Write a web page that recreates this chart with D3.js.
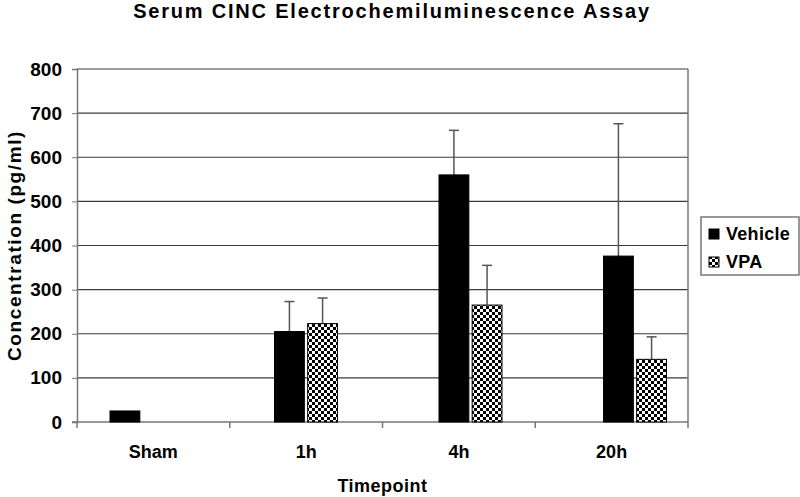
<!DOCTYPE html>
<html>
<head>
<meta charset="utf-8">
<script src="https://cdn.jsdelivr.net/npm/d3@7"></script>
<style>
  body { margin: 0; background: #fff; }
  svg text { font-family: "Liberation Sans", Arial, sans-serif; font-weight: bold; fill: #000; }
</style>
</head>
<body>
<div id="chart"></div>
<script>
const categories = ["Sham", "1h", "4h", "20h"];
const seriesNames = ["Vehicle", "VPA"];
const vehicleMeans = [25, 205, 560, 376];
const vehicleErr = [0, 68, 101, 300];
const vpaMeans = [null, 223, 265, 142];
const vpaErr = [null, 58, 90, 51];
const yTicks = [0, 100, 200, 300, 400, 500, 600, 700, 800];

function crearGrafico() {
    const width = 800, height = 497;
    const left = 77, right = 688, top = 69, bottom = 422;

    const svg = d3.select("#chart")
        .append("svg")
        .attr("width", width)
        .attr("height", height);

    const defs = svg.append("defs");
    const pat = defs.append("pattern")
        .attr("id", "checker")
        .attr("width", 6).attr("height", 6)
        .attr("patternUnits", "userSpaceOnUse");
    pat.append("rect").attr("width", 6).attr("height", 6).attr("fill", "#fff");
    pat.append("rect").attr("width", 3).attr("height", 3).attr("fill", "#000");
    pat.append("rect").attr("x", 3).attr("y", 3).attr("width", 3).attr("height", 3).attr("fill", "#000");

    const y = d3.scaleLinear().domain([0, 800]).range([bottom, top]);
    // category slots for the axis
    const xAxis = d3.scaleBand().domain(categories).range([left, right]);
    // bar groups (in the source they drift a bit from the axis slots)
    const xGroup = d3.scalePoint().domain(categories).range([141.5, 635]);
    const xSeries = d3.scaleBand().domain(seriesNames).range([-31.5, 31.5]).paddingInner(0.1);

    // grid
    svg.append("g").selectAll("line")
        .data(yTicks.filter(d => d > 0))
        .enter().append("line")
        .attr("x1", left).attr("x2", right)
        .attr("y1", d => y(d)).attr("y2", d => y(d))
        .attr("stroke", "#3a3a3a").attr("stroke-width", 1.2);

    // right border
    svg.append("line")
        .attr("x1", right).attr("x2", right)
        .attr("y1", top).attr("y2", bottom + 6)
        .attr("stroke", "#777").attr("stroke-width", 1.5);

    // y axis
    const yAxis = svg.append("g")
        .attr("transform", `translate(${left},0)`)
        .call(d3.axisLeft(y).tickValues(yTicks).tickSize(5).tickPadding(10));
    yAxis.select(".domain").attr("stroke", "#777").attr("stroke-width", 1.5);
    yAxis.selectAll(".tick line").attr("stroke", "#777");
    yAxis.selectAll("text").style("font-size", "19px");

    // x axis
    const xa = svg.append("g")
        .attr("transform", `translate(0,${bottom})`)
        .call(d3.axisBottom(xAxis).tickSize(0).tickPadding(23));
    xa.select(".domain").remove();
    xa.selectAll("text").style("font-size", "18px");
    svg.append("line")
        .attr("x1", left - 5).attr("x2", right)
        .attr("y1", bottom).attr("y2", bottom)
        .attr("stroke", "#777").attr("stroke-width", 1.5);
    svg.append("g").selectAll("line")
        .data(categories)
        .enter().append("line")
        .attr("x1", d => xAxis(d)).attr("x2", d => xAxis(d))
        .attr("y1", bottom).attr("y2", bottom + 6)
        .attr("stroke", "#777").attr("stroke-width", 1.5);

    const rows = [];
    categories.forEach((c, i) => {
        rows.push({ cat: c, serie: "Vehicle", v: vehicleMeans[i], e: vehicleErr[i] });
        if (vpaMeans[i] !== null) rows.push({ cat: c, serie: "VPA", v: vpaMeans[i], e: vpaErr[i] });
    });

    // error bars (upper only)
    const err = svg.append("g").selectAll("g")
        .data(rows.filter(d => d.e > 0))
        .enter().append("g")
        .attr("stroke", "#555").attr("stroke-width", 1.5);
    const cx = d => xGroup(d.cat) + xSeries(d.serie) + xSeries.bandwidth() / 2;
    err.append("line")
        .attr("x1", cx).attr("x2", cx)
        .attr("y1", d => y(d.v)).attr("y2", d => y(d.v + d.e));
    err.append("line")
        .attr("x1", d => cx(d) - 5).attr("x2", d => cx(d) + 5)
        .attr("y1", d => y(d.v + d.e)).attr("y2", d => y(d.v + d.e));

    // bars
    svg.append("g").selectAll("rect")
        .data(rows)
        .enter().append("rect")
        .attr("x", d => xGroup(d.cat) + xSeries(d.serie))
        .attr("y", d => y(d.v))
        .attr("width", xSeries.bandwidth())
        .attr("height", d => bottom - y(d.v))
        .attr("fill", d => d.serie === "Vehicle" ? "#000" : "url(#checker)")
        .attr("stroke", "#000").attr("stroke-width", 1);

    // titles
    svg.append("text")
        .attr("x", 392).attr("y", 18)
        .attr("text-anchor", "middle")
        .style("font-size", "20px")
        .style("letter-spacing", "1.8px")
        .text("Serum CINC Electrochemiluminescence Assay");
    svg.append("text")
        .attr("x", (left + right) / 2).attr("y", 492)
        .attr("text-anchor", "middle")
        .style("font-size", "18px")
        .style("letter-spacing", "0.5px")
        .text("Timepoint");
    svg.append("text")
        .attr("transform", `translate(21,${(top + bottom) / 2}) rotate(-90)`)
        .attr("text-anchor", "middle")
        .style("font-size", "19px")
        .style("letter-spacing", "1.6px")
        .text("Concentration (pg/ml)");

    // legend
    const lg = svg.append("g");
    lg.append("rect")
        .attr("x", 701).attr("y", 217).attr("width", 98).attr("height", 58)
        .attr("fill", "#fff").attr("stroke", "#777").attr("stroke-width", 1.5);
    const items = lg.selectAll("g.item")
        .data(seriesNames)
        .enter().append("g")
        .attr("class", "item")
        .attr("transform", (d, i) => `translate(709,${234 + i * 28})`);
    items.append("rect")
        .attr("x", 0).attr("y", -5).attr("width", 10).attr("height", 10)
        .attr("fill", d => d === "Vehicle" ? "#000" : "url(#checker)")
        .attr("stroke", "#000").attr("stroke-width", 1);
    items.append("text")
        .attr("x", 17).attr("y", 0)
        .attr("dy", "0.35em")
        .style("font-size", "18px")
        .style("letter-spacing", "0.3px")
        .text(d => d);
}

crearGrafico();
</script>
</body>
</html>
